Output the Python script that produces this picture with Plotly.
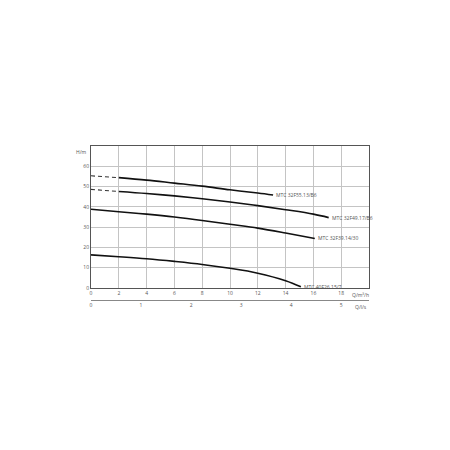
#!/usr/bin/env python3
import plotly.graph_objects as go

# pump curves: flow Q in m3/h, head H in m
pump_names = ["MTC 32F55.13/B6", "MTC 32F49.17/B6", "MTC 32F39.14/30", "MTC 40F26.15/7"]

# dashed start (low-flow region) of the two upper curves
dash_q = [0, 2]
dash_h_55 = [55.3, 54.4]
dash_h_49 = [48.6, 47.6]

q_55 = [2, 4, 6, 8, 10, 12, 13.1]
h_55 = [54.4, 53.2, 51.7, 50.2, 48.4, 46.8, 45.8]

q_49 = [2, 4, 6, 8, 10, 12, 14, 16, 17.1]
h_49 = [47.6, 46.6, 45.4, 44.0, 42.4, 40.6, 38.6, 36.4, 34.7]

q_39 = [0, 2, 4, 6, 8, 10, 12, 14, 16.1]
h_39 = [38.8, 37.6, 36.4, 35.0, 33.3, 31.4, 29.5, 27.1, 24.4]

q_26 = [0, 2, 4, 6, 8, 10, 12, 14, 15.1]
h_26 = [16.3, 15.4, 14.4, 13.1, 11.6, 9.7, 7.3, 3.6, 0.6]

q_ticks = [0, 2, 4, 6, 8, 10, 12, 14, 16, 18]
h_ticks = [0, 10, 20, 30, 40, 50, 60]
ls_ticks = [0, 1, 2, 3, 4, 5]

FONT = "Open Sans"
TXT = "#555555"

fig = go.Figure()

line = dict(color="#111111", width=1.6)
dline = dict(color="#333333", width=1.1, dash="4px,3px")

fig.add_trace(go.Scatter(x=dash_q, y=dash_h_55, mode="lines", line=dline, line_shape="spline"))
fig.add_trace(go.Scatter(x=dash_q, y=dash_h_49, mode="lines", line=dline, line_shape="spline"))
for q, h in [(q_55, h_55), (q_49, h_49), (q_39, h_39), (q_26, h_26)]:
    fig.add_trace(go.Scatter(x=q, y=h, mode="lines", line=line, line_shape="spline"))

# invisible trace to bring up the l/s axis
fig.add_trace(go.Scatter(x=[0, 5], y=[0, 0], xaxis="x2", mode="lines",
                         line=dict(width=0), hoverinfo="skip"))

# pump names at the end of each curve
for name, q, h in zip(pump_names, [q_55, q_49, q_39, q_26], [h_55, h_49, h_39, h_26]):
    fig.add_annotation(x=q[-1], y=h[-1], text=name, showarrow=False,
                       xanchor="left", yanchor="middle", xshift=1,
                       font=dict(family=FONT, size=5, color=TXT))

# axis unit labels
fig.add_annotation(x=19.4, y=0, text="Q/m³/h", showarrow=False, yanchor="top",
                   yshift=-2, font=dict(family=FONT, size=5, color=TXT))
fig.add_annotation(x=5.4, y=0, xref="x2", yref="paper", text="Q/l/s", showarrow=False,
                   yanchor="top", yshift=-1, font=dict(family=FONT, size=5, color=TXT))
fig.add_annotation(x=0, y=67, text="H/m", showarrow=False, xanchor="right",
                   xshift=-2, font=dict(family=FONT, size=5, color=TXT))

grid = "#c4c4c4"
fig.update_layout(
    width=450, height=450,
    margin=dict(l=83, r=89, t=138, b=157),
    paper_bgcolor="white", plot_bgcolor="white",
    showlegend=False,
    font=dict(family=FONT, size=5, color=TXT),
    xaxis=dict(range=[0, 20], tickvals=q_ticks, showgrid=True, gridcolor=grid,
               gridwidth=1, zeroline=False, showline=True, linecolor="#555555",
               linewidth=1, mirror=True, ticks="", ticklen=0,
               tickfont=dict(family=FONT, size=5, color=TXT)),
    yaxis=dict(range=[0, 70], tickvals=h_ticks, domain=[0.084, 1], showgrid=True,
               gridcolor=grid, gridwidth=1, zeroline=False, showline=True,
               linecolor="#555555", linewidth=1, mirror=True, ticks="",
               tickfont=dict(family=FONT, size=5, color=TXT)),
    xaxis2=dict(range=[0, 20 / 3.6], tickvals=ls_ticks, overlaying="x",
                anchor="free", position=0.006, side="bottom", showgrid=False,
                zeroline=False, showline=True, linecolor="#888888", linewidth=1,
                ticks="", tickfont=dict(family=FONT, size=5, color=TXT)),
)

fig.write_html("out.html")
